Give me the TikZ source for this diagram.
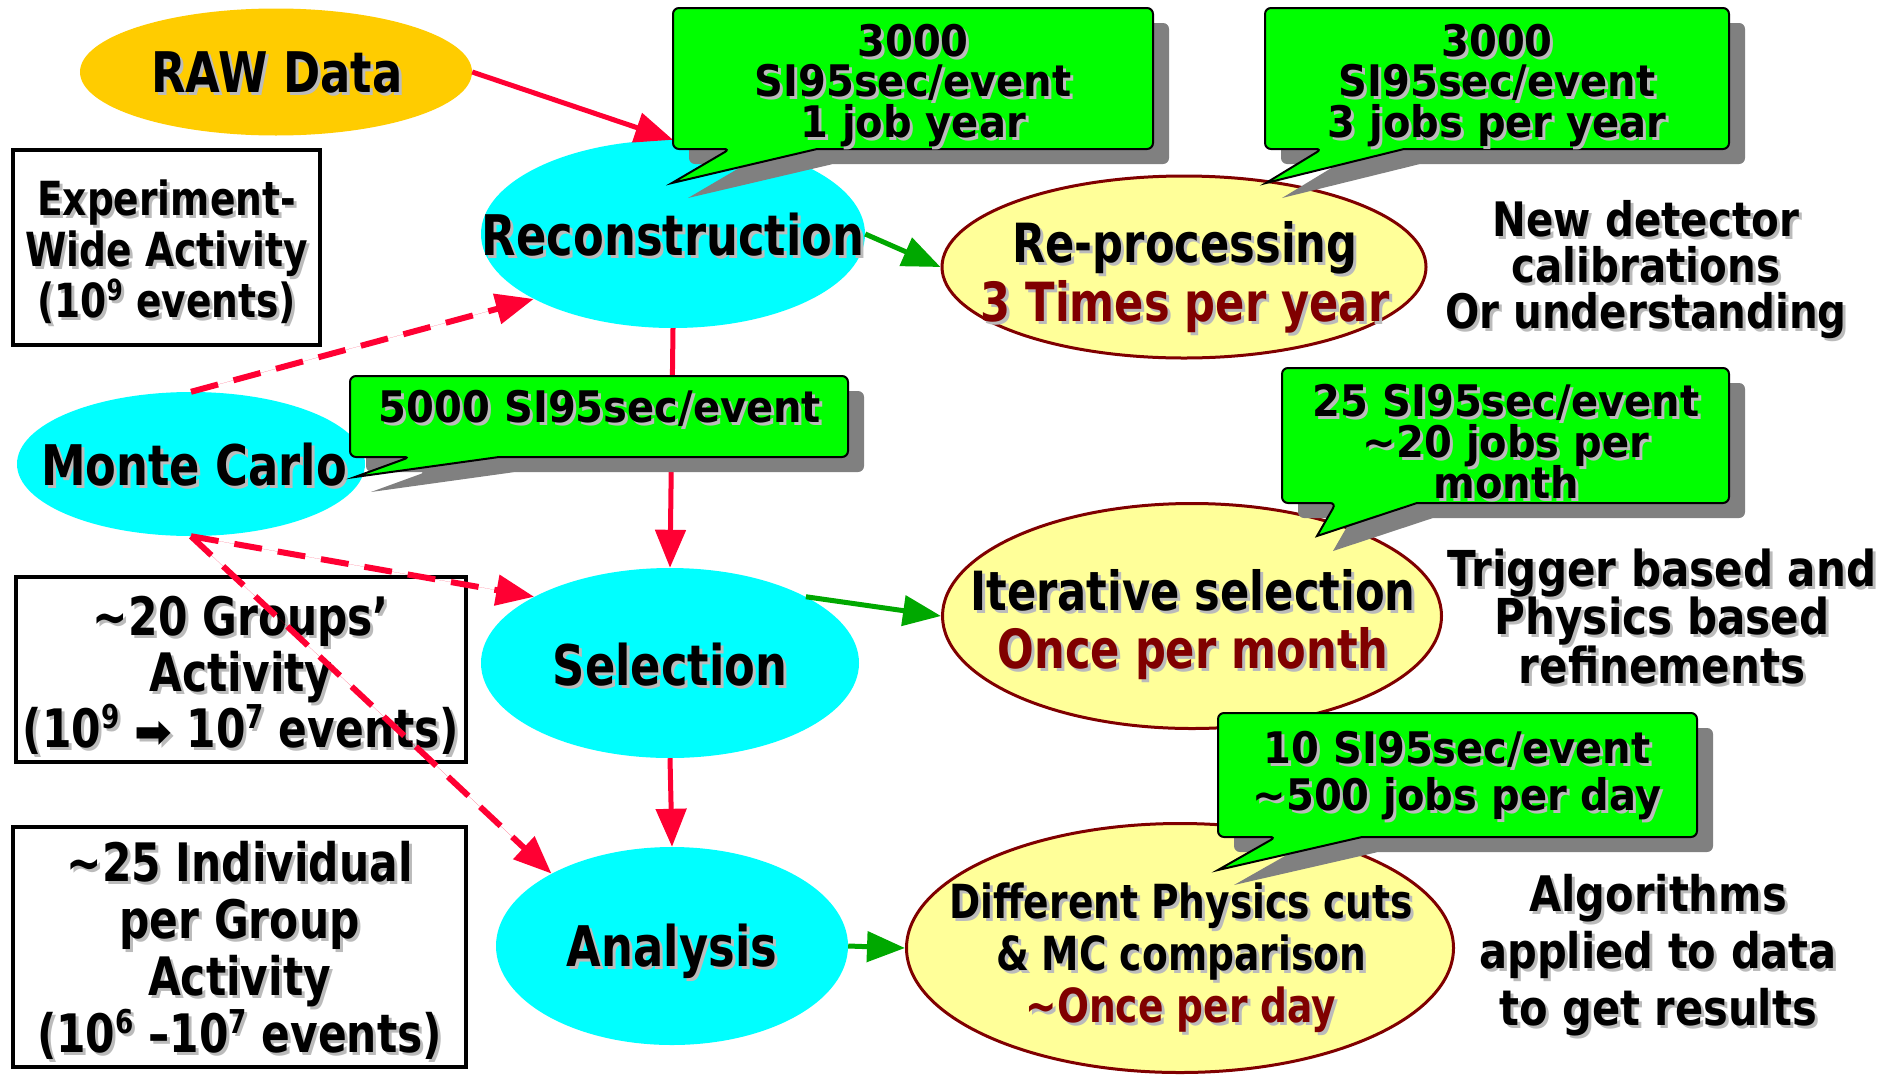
\documentclass[tikz,border=0pt]{standalone}
\usepackage{fontspec}
\setmainfont{DejaVu Sans}[FakeStretch=0.8]
\newfontfamily\calfont{DejaVu Sans}[FakeStretch=0.92]
\newfontfamily\notefont{DejaVu Sans}[FakeStretch=0.85]
\newfontfamily\symfont{DejaVu Sans}
\usetikzlibrary{shapes.geometric,arrows.meta}

\definecolor{cyanfill}{HTML}{00FFFF}
\definecolor{rawfill}{HTML}{FFCC00}
\definecolor{yellfill}{HTML}{FFFF99}
\definecolor{darkred}{HTML}{800000}
\definecolor{calloutgreen}{HTML}{00FF00}
\definecolor{calloutshadow}{HTML}{808080}
\definecolor{flowred}{HTML}{FF0033}
\definecolor{flowgreen}{HTML}{00A800}
\definecolor{textshadow}{HTML}{BBBBBB}

% text with a soft drop shadow
\newcommand{\shd}[1]{\leavevmode\rlap{\kern3pt\raisebox{-3pt}{\color{textshadow}#1}}#1}
% raised small exponent
\newcommand{\sups}[1]{\raisebox{0.36em}{\scalebox{0.62}{#1}}}
% heavy arrow glyph
\newcommand{\harrow}{{\symfont\scalebox{0.85}{➡}}}

% speech-bubble callout: rect (#1,#2)-(#3,#4), tail base #5..#6 on the bottom edge, tip (#7,#8)
\newcommand{\callout}[8]{%
  \fill[calloutshadow, shift={(16,15)}] (#5,#4) -- (#7,#8) -- (#6,#4)
     [rounded corners=6pt] -- (#3,#4) -- (#3,#2) -- (#1,#2) -- (#1,#4) -- cycle;
  \filldraw[fill=calloutgreen, draw=black, line width=2pt] (#5,#4) -- (#7,#8) -- (#6,#4)
     [rounded corners=6pt] -- (#3,#4) -- (#3,#2) -- (#1,#2) -- (#1,#4) -- cycle;
}

\tikzset{
  rawell/.style={ellipse, fill=rawfill, inner sep=0pt},
  cyanell/.style={ellipse, fill=cyanfill, inner sep=0pt},
  yellell/.style={ellipse, fill=yellfill, draw=darkred, line width=3pt, inner sep=0pt},
  bigtxt/.style={font=\bfseries\fontsize{56}{64}\selectfont, inner sep=0pt, align=center},
  plaintxt/.style={inner sep=0pt, align=center},
  infobox/.style={draw=black, line width=4.5pt, fill=white, inner sep=0pt},
  callouttxt/.style={inner sep=0pt, align=center},
  flow/.style={line width=5pt, -{Triangle[length=38pt,width=30pt]}},
  redflow/.style={flow, draw=flowred, fill=flowred},
  greenflow/.style={flow, draw=flowgreen, fill=flowgreen},
  mcflow/.style={redflow, line width=6pt, dash pattern=on 28pt off 16pt},
}

\begin{document}
% lines in multi-line labels are set at their baselineskip even when they touch
\lineskiplimit=-200pt
\begin{tikzpicture}[x=1pt, y=-1pt]
\useasboundingbox (0,0) rectangle (1894,1074);
\fill[white] (0,0) rectangle (1894,1074);

% processing stages
\node[rawell, minimum width=392pt, minimum height=127pt] (raw) at (276,72) {};
\node[cyanell, minimum width=384pt, minimum height=188pt] (recon) at (673,234) {};
\node[cyanell, minimum width=348pt, minimum height=144pt] (mc) at (191,464) {};
\node[cyanell, minimum width=378pt, minimum height=190pt] (sel) at (670,663) {};
\node[cyanell, minimum width=352pt, minimum height=198pt] (ana) at (672,946) {};

\node[yellell, minimum width=484pt, minimum height=182pt] (reproc) at (1184,267) {};
\node[yellell, minimum width=499pt, minimum height=225pt] (iter) at (1192,616) {};
\node[yellell, minimum width=547pt, minimum height=249pt] (diff) at (1180,948) {};

\node[bigtxt] (rawt) at (277,74) {\shd{RAW Data}};
\node[bigtxt] (recont) at (673,236) {\shd{Reconstruction}};
\node[bigtxt] (mct) at (194,466) {\shd{Monte Carlo}};
\node[bigtxt] (selt) at (670,666) {\shd{Selection}};
\node[bigtxt] (anat) at (672,953) {\shd{Analysis}};

\node[plaintxt, font=\bfseries\fontsize{54}{59}\selectfont] (reproct) at (1185,279)
  {\shd{Re-processing}\\\textcolor{darkred}{\shd{3 Times per year}}};
\node[plaintxt, font=\bfseries\fontsize{54}{58}\selectfont] (itert) at (1193,626)
  {\shd{Iterative selection}\\\textcolor{darkred}{\shd{Once per month}}};
\node[plaintxt, font=\bfseries\fontsize{47}{52}\selectfont] (difft) at (1181,959)
  {\shd{Different Physics cuts}\\\shd{\& MC comparison}\\\textcolor{darkred}{\shd{\textasciitilde Once per day}}};

% scope boxes on the left
\node[infobox, minimum width=307pt, minimum height=195pt] (expbox) at (166.5,247.5) {};
\node[infobox, minimum width=450pt, minimum height=185pt] (grpbox) at (241,669.5) {};
\node[infobox, minimum width=453pt, minimum height=240pt] (indbox) at (239.5,947) {};

\node[plaintxt, font=\bfseries\fontsize{47}{51}\selectfont] (expt) at (166.5,253)
  {\shd{Experiment-}\\\shd{Wide Activity}\\\shd{(10\sups{9} events)}};
\node[plaintxt, font=\bfseries\fontsize{53}{56}\selectfont] (grpt) at (241,677)
  {\shd{\textasciitilde 20 Groups’}\\\shd{Activity}\\\shd{(10\sups{9} \harrow\ 10\sups{7} events)}};
\node[plaintxt, font=\bfseries\fontsize{53}{57}\selectfont] (indt) at (239.5,952)
  {\shd{\textasciitilde 25 Individual}\\\shd{per Group}\\\shd{Activity}\\\shd{(10\sups{6} –10\sups{7} events)}};

% notes on the right
\node[plaintxt, font=\notefont\bfseries\fontsize{47.5}{46}\selectfont] (calibt) at (1646,271)
  {\shd{New detector}\\\shd{calibrations}\\\shd{Or understanding}};
\node[plaintxt, font=\notefont\bfseries\fontsize{49.5}{48.5}\selectfont] (trigt) at (1662,618)
  {\shd{Trigger based and}\\\shd{Physics based}\\\shd{refinements}};
\node[plaintxt, font=\notefont\bfseries\fontsize{49}{57}\selectfont] (algot) at (1658,957)
  {\shd{Algorithms}\\\shd{applied to data}\\\shd{to get results}};

% data flow
\draw[redflow] (raw.east) -- (recon.north);
\draw[redflow] (recon.south) -- (sel.north);
\draw[redflow] (sel.south) -- (ana.north);
\draw[greenflow] (recon.east) -- (reproc.west);
\draw[greenflow] (sel.26) -- (iter.west);
\draw[greenflow] (ana.east) -- (diff.west);
\draw[mcflow] (mc.north) -- (recon.205);
\draw[mcflow] (mc.south) -- (sel.154);
\draw[mcflow] (mc.south) -- (ana.149);

% CPU cost callouts
\callout{673}{8}{1153}{149}{730}{817}{672}{183}
\callout{1265}{8}{1729}{149}{1322}{1404}{1266}{183}
\callout{350}{376}{848}{457}{410}{499}{355}{477}
\callout{1282}{368}{1729}{503}{1336}{1417}{1317}{536}
\callout{1218}{713}{1697}{837}{1276}{1362}{1218}{870}

\node[callouttxt, font=\calfont\bfseries\fontsize{43.5}{40.5}\selectfont] (c1t) at (913,87)
  {\shd{3000}\\\shd{SI95sec/event}\\\shd{1 job year}};
\node[callouttxt, font=\calfont\bfseries\fontsize{43.5}{40.5}\selectfont] (c2t) at (1497,87)
  {\shd{3000}\\\shd{SI95sec/event}\\\shd{3 jobs per year}};
\node[callouttxt, font=\calfont\bfseries\fontsize{43.5}{41}\selectfont] (c3t) at (600,410)
  {\shd{5000 SI95sec/event}};
\node[callouttxt, font=\calfont\bfseries\fontsize{43.5}{41}\selectfont] (c4t) at (1506,443)
  {\shd{25 SI95sec/event}\\\shd{\textasciitilde 20 jobs per}\\\shd{month}};
\node[callouttxt, font=\calfont\bfseries\fontsize{43.5}{47}\selectfont] (c5t) at (1457,777)
  {\shd{10 SI95sec/event}\\\shd{\textasciitilde 500 jobs per day}};
\end{tikzpicture}
\end{document}
